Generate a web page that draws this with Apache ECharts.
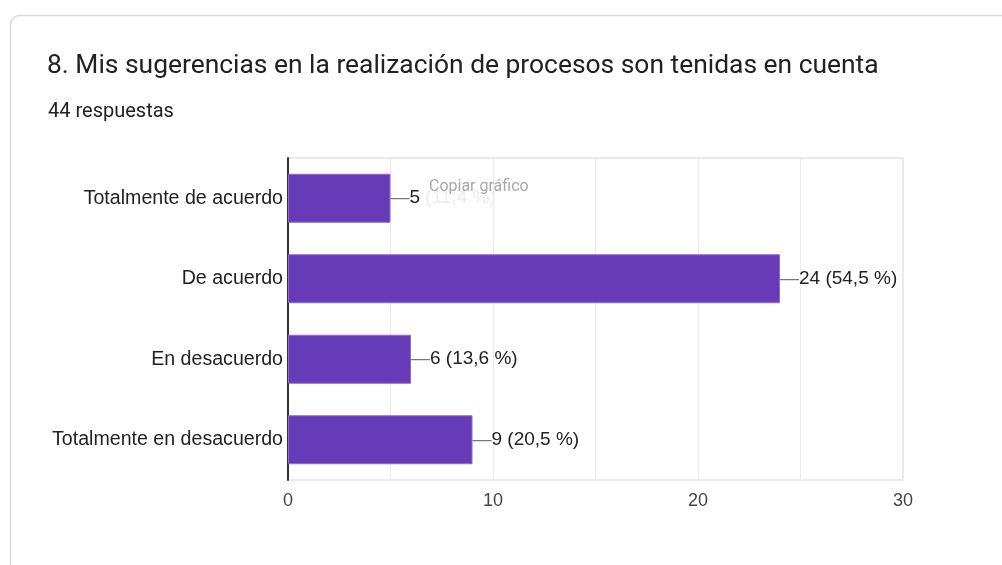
<!DOCTYPE html>
<html>
<head>
<meta charset="utf-8">
<script src="https://cdn.jsdelivr.net/npm/echarts@6/dist/echarts.min.js"></script>
<style>
  html, body { margin: 0; padding: 0; background: #fff; }
  #chart { width: 1002px; height: 565px; }
</style>
</head>
<body>
<div id="chart"></div>
<script>
// respuestas por opción
var categorias = ['Totalmente de acuerdo', 'De acuerdo', 'En desacuerdo', 'Totalmente en desacuerdo'];
var valores = [5, 24, 6, 9];
var porcentajes = ['11,4', '54,5', '13,6', '20,5'];
var totalRespuestas = 44;

var fuente = '"Liberation Sans"';

var chart = echarts.init(document.getElementById('chart'));

var option = {
    animation: false,
    graphic: [
        {
            type: 'rect',
            shape: { x: 10.5, y: 15.5, width: 1010, height: 570, r: 9 },
            style: { fill: '#fff', stroke: '#dadce0', lineWidth: 1.5 },
            z: -10
        },
        {
            type: 'text',
            left: 47, top: 53,
            style: {
                text: '8. Mis sugerencias en la realización de procesos son tenidas en cuenta',
                fontFamily: 'Roboto', fontSize: 26.4, fill: '#202124'
            }
        },
        {
            type: 'text',
            left: 48, top: 102,
            style: {
                text: totalRespuestas + ' respuestas',
                fontFamily: 'Roboto', fontSize: 20, fill: '#202124'
            }
        },
        {
            type: 'text',
            left: 429, top: 179,
            z: 100,
            style: {
                text: 'Copiar gráfico',
                fontFamily: 'Roboto', fontSize: 16, fill: '#a8a8a8'
            }
        }
    ],
    grid: {
        left: 288,
        right: 99,
        top: 158,
        bottom: 85,
        show: true,
        borderColor: '#ebebeb',
        borderWidth: 2
    },
    xAxis: {
        type: 'value',
        min: 0,
        max: 30,
        interval: 10,
        axisLine: { show: false },
        axisTick: { show: false },
        axisLabel: { color: '#444', fontSize: 18, fontFamily: fuente, margin: 12 },
        splitLine: { lineStyle: { color: '#ebebeb', width: 1 } },
        minorTick: { show: false, splitNumber: 2 },
        minorSplitLine: { show: true, lineStyle: { color: '#ebebeb', width: 1 } }
    },
    yAxis: {
        type: 'category',
        inverse: true,
        data: categorias,
        axisLine: { lineStyle: { color: '#333', width: 2 } },
        axisTick: { show: false },
        axisLabel: { color: '#222', fontSize: 19.6, fontFamily: fuente, margin: 5 }
    },
    series: [{
        type: 'bar',
        data: valores,
        barWidth: 49,
        itemStyle: { color: '#673ab7', borderColor: '#8e6bd0', borderWidth: 1 },
        label: {
            show: true,
            position: 'right',
            distance: 0,
            color: '#222',
            fontSize: 19,
            fontFamily: fuente,
            formatter: function (p) {
                if (p.dataIndex === 0) {
                    return '{d|—}' + p.value + ' {h|(' + porcentajes[p.dataIndex] + ' %)}';
                }
                return '{d|—}' + p.value + ' (' + porcentajes[p.dataIndex] + ' %)';
            },
            rich: {
                d: { color: '#777', fontSize: 19, fontFamily: fuente },
                h: { color: '#ececec', fontSize: 19, fontFamily: fuente }
            }
        }
    }]
};

chart.setOption(option);
</script>
</body>
</html>
